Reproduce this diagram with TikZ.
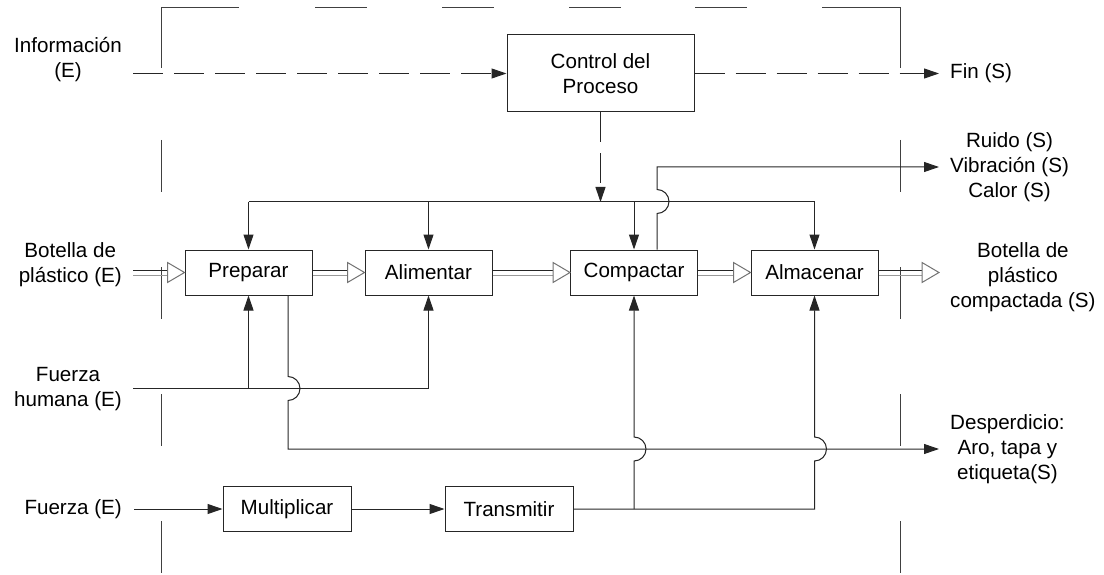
\documentclass[tikz,border=0pt]{standalone}
\usepackage{fontspec}
\setmainfont{Liberation Sans}
\usetikzlibrary{arrows.meta}
\newcommand\dfont{\fontsize{20.6pt}{25pt}\selectfont}
\newcommand\matarrow[2]{%
  \draw[matA] ([yshift=2.5pt]#1) -- ([xshift=-17pt,yshift=2.5pt]#2);
  \draw[matB] ([yshift=-2.5pt]#1) -- ([xshift=-17pt,yshift=-2.5pt]#2);
  \draw[mathead] (#2) -- ([xshift=-17pt,yshift=10pt]#2) -- ([xshift=-17pt,yshift=-10pt]#2) -- cycle;}
\begin{document}
\begin{tikzpicture}[x=1pt,y=-1pt,
  every node/.style={font=\dfont},
  ln/.style={draw=black!85, line width=1pt},
  arr/.style={ln, -{Triangle[length=15pt,width=10pt]}},
  infoarrow/.style={arr, dash pattern=on 30pt off 11pt},
  bnd/.style={draw=black!75, line width=1pt},
  box/.style={ln, minimum width=127pt, minimum height=45pt, inner sep=0pt, align=center},
  lbl/.style={inner sep=0pt, align=center},
  matA/.style={draw=black!85, line width=1pt},
  matB/.style={draw=black!40, line width=1pt},
  mathead/.style={draw=black!55, line width=1pt, fill=white, line join=miter}
]
\useasboundingbox (0,0) rectangle (1104,575);

% system boundary
\draw[bnd] (161,68) -- (161,8) -- (239,8);
\foreach \a in {315,442,569,695} \draw[bnd] (\a,8) -- (\a+52,8);
\draw[bnd] (822,8) -- (900,8) -- (900,68);
\foreach \b in {140,267,394,521} {
  \draw[bnd] (161,\b) -- (161,\b+52);
  \draw[bnd] (900,\b) -- (900,\b+52);
}

% boxes
\node[box, minimum width=187pt, minimum height=77pt] (ctrl) at (600.5,73.5) {Control del\\Proceso};
\node[box] (prep) at (248.5,272.5) {Preparar};
\node[box] (alim) at (428.5,272.5) {Alimentar};
\node[box] (comp) at (634,272.5) {Compactar};
\node[box] (alma) at (814.5,272.5) {Almacenar};
\node[box, minimum width=128pt] (mult) at (287,509) {Multiplicar};
\node[box, minimum width=128pt] (trans) at (509,509) {Transmitir};

% labels
\node[lbl, anchor=east] (info) at (122,59.5) {Información\\(E)};
\node[lbl, anchor=east] (botin) at (122,264.5) {Botella de\\plástico (E)};
\node[lbl, anchor=east] (fhum) at (122,389) {Fuerza\\humana (E)};
\node[lbl, anchor=east] (fza) at (122,509) {Fuerza (E)};
\node[lbl, anchor=west] (fin) at (950,73.5) {Fin (S)};
\node[lbl, anchor=west] (ruido) at (950,167) {Ruido (S)\\Vibración (S)\\Calor (S)};
\node[lbl, anchor=west] (botout) at (950,277) {Botella de\\plástico\\compactada (S)};
\node[lbl, anchor=west] (desp) at (950,449) {Desperdicio:\\Aro, tapa y\\etiqueta(S)};

% coordinates
\coordinate (infoS) at (133,73.5);
\coordinate (finE) at (939,73.5);
\coordinate (busC) at (600.5,202);
\coordinate (busL) at (248.5,202);
\coordinate (busR) at (814.5,202);
\coordinate (ruE) at (939,167);
\coordinate (botS) at (133,272.5);
\coordinate (botE) at (939,272.5);
\coordinate (fhS) at (133,388);
\coordinate (despE) at (939,449);
\coordinate (fzS) at (134,509);

% information flow
\draw[infoarrow] (infoS) -- (ctrl.west);
\draw[infoarrow] (ctrl.east) -- (finE);
\draw[infoarrow] (ctrl.south) -- (busC);

% control bus
\draw[ln] (busL) -- (busR);
\draw[arr] (busL) -- (prep.north);
\draw[arr] (alim.north |- busL) -- (alim.north);
\draw[arr] (comp.north |- busL) -- (comp.north);
\draw[arr] (busR) -- (alma.north);

% material flow
\matarrow{botS}{prep.west}
\matarrow{prep.east}{alim.west}
\matarrow{alim.east}{comp.west}
\matarrow{comp.east}{alma.west}
\matarrow{alma.east}{botE}

% noise output
\draw[arr] ([xshift=23pt]comp.north) -- ++(0,-36) arc[start angle=-90,end angle=90,radius=12pt] |- (ruE);

% human force
\draw[arr] (fhS) -| (alim.south);
\draw[arr] (fhS -| prep.south) -- (prep.south);

% waste
\draw[arr] ([xshift=39.5pt]prep.south) -- ++(0,81) arc[start angle=90,end angle=-90,radius=12pt] |- (despE);

% force chain
\draw[arr] (fzS) -- (mult.west);
\draw[arr] (mult.east) -- (trans.west);
\draw[arr] (trans.east) -- (trans.east -| alma.south) -- ++(0,-48) arc[start angle=-90,end angle=90,radius=12pt] -- (alma.south);
\draw[arr] (trans.east -| comp.south) -- ++(0,-48) arc[start angle=-90,end angle=90,radius=12pt] -- (comp.south);
\end{tikzpicture}
\end{document}
